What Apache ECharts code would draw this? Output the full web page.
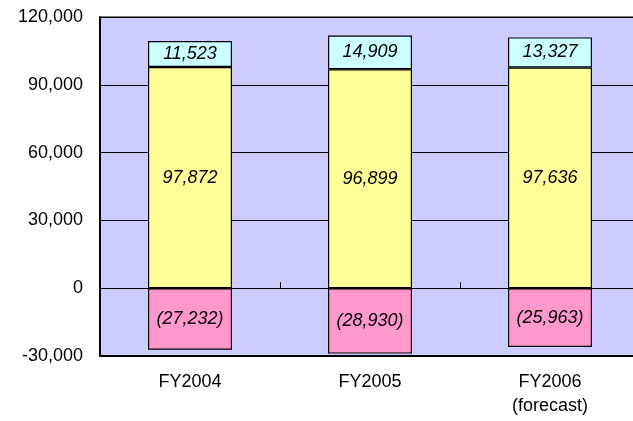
<!DOCTYPE html>
<html>
<head>
<meta charset="utf-8">
<script src="https://cdn.jsdelivr.net/npm/echarts@6/dist/echarts.min.js"></script>
<style>
    html, body { margin: 0; padding: 0; background: #fff; }
    #chart { width: 633px; height: 421px; }
</style>
</head>
<body>
<div id="chart"></div>
<script>
var categories = ['FY2004', 'FY2005', 'FY2006\n(forecast)'];
var negativeValues = [-27232, -28930, -25963];
var middleValues = [97872, 96899, 97636];
var topValues = [11523, 14909, 13327];

function fmt(v) {
    var s = Math.abs(v).toString().replace(/\B(?=(\d{3})+(?!\d))/g, ',');
    return v < 0 ? '(' + s + ')' : s;
}

var labelStyle = {
    show: true,
    position: 'inside',
    color: '#000',
    fontStyle: 'italic',
    fontFamily: 'Liberation Sans, Arial, sans-serif',
    fontSize: 18,
    formatter: function (p) { return fmt(p.value); }
};

function barSeries(name, data, color) {
    return {
        name: name,
        type: 'bar',
        stack: 'total',
        barWidth: 84,
        data: data,
        itemStyle: { color: color, borderColor: '#000', borderWidth: 1.2 },
        label: labelStyle
    };
}

var chart = echarts.init(document.getElementById('chart'));
var option = {
    animation: false,
    grid: {
        left: 100, width: 540, top: 17, bottom: 65,
        outerBoundsMode: 'none',
        containLabel: false,
        show: true,
        backgroundColor: '#CCCCFF',
        borderColor: '#000',
        borderWidth: 1
    },
    xAxis: [{
        type: 'category',
        data: categories,
        position: 'bottom',
        axisLine: { onZero: false, lineStyle: { color: '#000', width: 2 } },
        axisTick: { show: false },
        axisLabel: {
            color: '#000',
            fontFamily: 'Liberation Sans, Arial, sans-serif',
            fontSize: 18,
            margin: 14,
            lineHeight: 24
        }
    }, {
        type: 'category',
        data: categories,
        position: 'top',
        axisLine: { onZero: true, lineStyle: { color: '#000', width: 1 } },
        axisTick: { show: true, inside: false, length: 6, lineStyle: { color: '#000' } },
        axisLabel: { show: false }
    }],
    yAxis: {
        type: 'value',
        min: -30000,
        max: 120000,
        interval: 30000,
        axisLine: { show: true, lineStyle: { color: '#000', width: 2 } },
        axisTick: { show: false },
        splitLine: { lineStyle: { color: '#000', width: 1 } },
        axisLabel: {
            color: '#000',
            fontFamily: 'Liberation Sans, Arial, sans-serif',
            fontSize: 18,
            margin: 17,
            formatter: function (v) { return v.toString().replace(/\B(?=(\d{3})+(?!\d))/g, ','); }
        }
    },
    series: [
        barSeries('negative', negativeValues, '#FF99CC'),
        barSeries('middle', middleValues, '#FFFF99'),
        barSeries('top', topValues, '#CCFFFF')
    ]
};
chart.setOption(option);
</script>
</body>
</html>
